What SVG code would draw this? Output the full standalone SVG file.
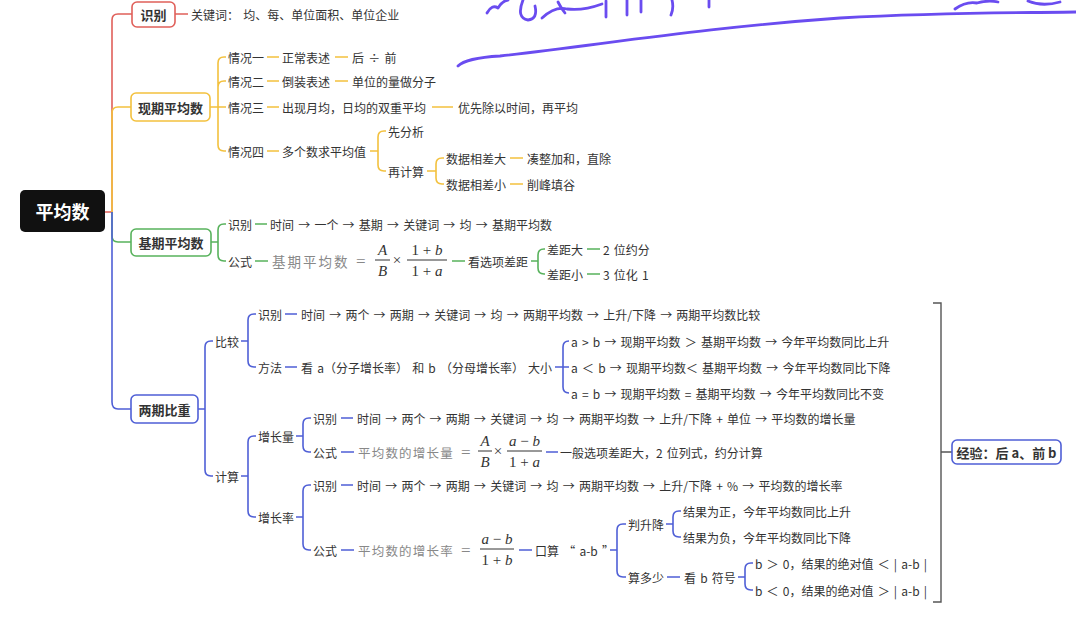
<svg xmlns="http://www.w3.org/2000/svg" width="1076" height="620" viewBox="0 0 1076 620">
<style>
.t{font-family:"Noto Sans CJK SC","Noto Sans",sans-serif;font-size:12px;fill:#333;dominant-baseline:central;word-spacing:1.5px}
.b{font-family:"Noto Sans CJK SC","Noto Sans",sans-serif;font-size:13px;font-weight:bold;fill:#333;text-anchor:middle;dominant-baseline:central}
.f{font-family:"Noto Sans CJK SC","Noto Sans",sans-serif;font-size:13.5px;fill:#888;dominant-baseline:central;letter-spacing:2px}
.f2{font-family:"Noto Sans CJK SC","Noto Sans",sans-serif;font-size:12.5px;fill:#888;dominant-baseline:central;letter-spacing:1.2px}
.m{font-family:"Liberation Serif","DejaVu Serif",serif;font-size:15px;fill:#333;text-anchor:middle}
.eq{font-family:"Liberation Serif","DejaVu Serif",serif;font-size:17px;fill:#888;dominant-baseline:central}
.i{font-style:italic}
.r{stroke:#e0605a;fill:none;stroke-width:1.6}
.y{stroke:#f3c13e;fill:none;stroke-width:1.6}
.g{stroke:#58b25c;fill:none;stroke-width:1.6}
.u{stroke:#4f5fd6;fill:none;stroke-width:1.6}
.k{stroke:#555;fill:none;stroke-width:1.4}
.bar{stroke:#333;stroke-width:1}
.hw{stroke:#6a4cf0;fill:none;stroke-width:2.8;stroke-linecap:round;stroke-linejoin:round}
</style>

<g id="handwriting">
<path class="hw" d="M458,66 Q466,58 500,56 C600,45 700,28 840,18 C950,12 1020,13 1076,12"/>
<path class="hw" d="M487,13 Q492,4 498,8 Q502,1 508,0"/>
<path class="hw" d="M523,0 Q516,18 528,20 Q538,19 535,6"/>
<path class="hw" d="M542,18 Q555,6 567,9 Q583,11 602,4"/>
<path class="hw" d="M558,2 Q561,8 565,13"/>
<path class="hw" d="M606,1 V17"/>
<path class="hw" d="M627,0 V15"/>
<path class="hw" d="M641,0 V12"/>
<path class="hw" d="M672,0 Q674,8 671,15"/>
<path class="hw" d="M709,0 V7"/>
<path class="hw" d="M955,9 Q966,1 977,3 Q988,0 998,2"/>
<path class="hw" d="M1028,1 Q1042,7 1060,2"/>
</g>

<g id="connectors">
<path class="r" d="M105,212 H112 V20 Q112,14 118,14 H132 M175,14 H188"/>
<path class="y" d="M112,212 V113 Q112,107 118,107 H131"/>
<path class="y" d="M210,107 H226 M218,107 V63 Q218,57 224,57 H226 M218,107 V87 Q218,81 224,81 H226 M218,107 V145 Q218,151 224,151 H226"/>
<path class="y" d="M267,57 H279 M335,57 H348 M267,81 H279 M335,81 H348 M267,107 H279 M432,107 H453 M267,151 H279 M370,151 H378"/>
<path class="y" d="M378,151 V137 Q378,131 384,131 H386 M378,151 V165 Q378,171 384,171 H386 M427,171 H436 M436,171 V164 Q436,158 442,158 H444 M436,171 V178 Q436,184 442,184 H444 M510,158 H523 M510,184 H523"/>
<path class="g" d="M112,212 V236 Q112,242 118,242 H131"/>
<path class="g" d="M211,242 H218 M218,242 V230 Q218,224 224,224 H226 M218,242 V255 Q218,261 224,261 H226 M255,224 H267 M255,261 H268 M452,261 H465 M531,261 H538 M538,261 V255 Q538,249 544,249 H545 M538,261 V268 Q538,274 544,274 H545 M587,249 H600 M587,274 H600"/>
<path class="u" d="M112,212 V402 Q112,409 118,409 H131"/>
<path class="u" d="M198,409 H205 M205,409 V347 Q205,341 211,341 H213 M205,409 V470 Q205,476 211,476 H213"/>
<path class="u" d="M241,341 H248 M248,341 V320 Q248,314 254,314 H256 M248,341 V361 Q248,367 254,367 H256 M285,314 H297 M285,367 H297"/>
<path class="u" d="M555,367 H569 M563,367 V347 Q563,341 569,341 M563,367 V387 Q563,393 569,393"/>
<path class="u" d="M241,476 H248 M248,476 V442 Q248,436 254,436 H256 M248,476 V511 Q248,517 254,517 H256"/>
<path class="u" d="M296,436 H303 M303,436 V424 Q303,418 309,418 H311 M303,436 V446 Q303,452 309,452 H311 M341,418 H353 M341,452 H354 M546,452 H558"/>
<path class="u" d="M296,517 H303 M303,517 V491 Q303,485 309,485 H311 M303,517 V544 Q303,550 309,550 H311 M341,485 H353 M341,550 H354 M519,550 H532 M610,550 H617"/>
<path class="u" d="M617,550 V530 Q617,524 623,524 H626 M617,550 V571 Q617,577 623,577 H626 M666,524 H673 M673,524 V517 Q673,511 679,511 H681 M673,524 V531 Q673,537 679,537 H681"/>
<path class="u" d="M667,577 H680 M738,577 H745 M745,577 V569 Q745,563 751,563 H753 M745,577 V584 Q745,590 751,590 H753"/>
<path class="k" d="M933,303 H941 V602 H933 M941,452 H952"/>
</g>

<g id="root">
<rect x="20" y="190" width="85" height="42" rx="5" fill="#111"/>
<text x="62.5" y="211" font-family="Noto Sans CJK SC, sans-serif" font-size="18" font-weight="bold" fill="#fff" text-anchor="middle" dominant-baseline="central">平均数</text>
</g>

<g id="n-shibie">
<rect x="132" y="2" width="43" height="25" rx="5" fill="#fff" stroke="#e0605a" stroke-width="1.6"/>
<text class="b" x="153.5" y="14.5">识别</text>
<text class="t" x="191" y="14">关键词： 均、每、单位面积、单位企业</text>
</g>

<g id="n-xianqi">
<rect x="131" y="93" width="79" height="28" rx="5" fill="#fff" stroke="#f3c13e" stroke-width="1.6"/>
<text class="b" x="170.5" y="107">现期平均数</text>
<text class="t" x="228" y="57">情况一</text>
<text class="t" x="282" y="57">正常表述</text>
<text class="t" x="352" y="57">后 ÷ 前</text>
<text class="t" x="228" y="81">情况二</text>
<text class="t" x="282" y="81">倒装表述</text>
<text class="t" x="352" y="81">单位的量做分子</text>
<text class="t" x="228" y="107">情况三</text>
<text class="t" x="282" y="107">出现月均，日均的双重平均</text>
<text class="t" x="458" y="107">优先除以时间，再平均</text>
<text class="t" x="228" y="151">情况四</text>
<text class="t" x="282" y="151">多个数求平均值</text>
<text class="t" x="388" y="131">先分析</text>
<text class="t" x="388" y="171">再计算</text>
<text class="t" x="446" y="158">数据相差大</text>
<text class="t" x="527" y="158">凑整加和，直除</text>
<text class="t" x="446" y="184">数据相差小</text>
<text class="t" x="527" y="184">削峰填谷</text>
</g>

<g id="n-jiqi">
<rect x="131" y="229" width="80" height="27" rx="5" fill="#fff" stroke="#58b25c" stroke-width="1.6"/>
<text class="b" x="171" y="242.5">基期平均数</text>
<text class="t" x="228" y="224">识别</text>
<text class="t" x="270" y="224">时间 → 一个 → 基期 → 关键词 → 均 → 基期平均数</text>
<text class="t" x="228" y="261">公式</text>
<text class="f" x="272" y="261">基期平均数</text>
<text class="eq" x="356" y="261">=</text>
<text class="m i" x="382.5" y="255">A</text>
<line class="bar" x1="375" y1="260" x2="390" y2="260"/>
<text class="m i" x="382.5" y="276">B</text>
<text class="m" x="397" y="265">×</text>
<text class="m" x="427" y="255">1 + <tspan class="i">b</tspan></text>
<line class="bar" x1="407" y1="260" x2="447" y2="260"/>
<text class="m" x="427" y="276">1 + <tspan class="i">a</tspan></text>
<text class="t" x="468" y="261">看选项差距</text>
<text class="t" x="547" y="249">差距大</text>
<text class="t" x="603" y="249">2 位约分</text>
<text class="t" x="547" y="274">差距小</text>
<text class="t" x="603" y="274">3 位化 1</text>
</g>

<g id="n-liangqi">
<rect x="131" y="395" width="67" height="28" rx="5" fill="#fff" stroke="#4f5fd6" stroke-width="1.6"/>
<text class="b" x="164.5" y="409">两期比重</text>
<text class="t" x="215" y="341">比较</text>
<text class="t" x="258" y="314">识别</text>
<text class="t" x="301" y="314">时间 → 两个 → 两期 → 关键词 → 均 → 两期平均数 → 上升/下降 → 两期平均数比较</text>
<text class="t" x="258" y="367">方法</text>
<text class="t" x="301" y="367">看 a（分子增长率） 和 b （分母增长率） 大小</text>
<text class="t" x="571" y="341">a &gt; b → 现期平均数 ＞ 基期平均数 → 今年平均数同比上升</text>
<text class="t" x="571" y="367">a ＜ b → 现期平均数＜ 基期平均数 → 今年平均数同比下降</text>
<text class="t" x="571" y="393">a = b → 现期平均数 = 基期平均数 → 今年平均数同比不变</text>
<text class="t" x="215" y="476">计算</text>
<text class="t" x="258" y="436">增长量</text>
<text class="t" x="313" y="418">识别</text>
<text class="t" x="357" y="418">时间 → 两个 → 两期 → 关键词 → 均 → 两期平均数 → 上升/下降 + 单位 → 平均数的增长量</text>
<text class="t" x="313" y="452">公式</text>
<text class="f2" x="358" y="452">平均数的增长量</text>
<text class="eq" x="461" y="452">=</text>
<text class="m i" x="485" y="446">A</text>
<line class="bar" x1="478" y1="451" x2="492" y2="451"/>
<text class="m i" x="485" y="467">B</text>
<text class="m" x="498" y="456">×</text>
<text class="m" x="524.5" y="446"><tspan class="i">a</tspan> − <tspan class="i">b</tspan></text>
<line class="bar" x1="507" y1="451" x2="542" y2="451"/>
<text class="m" x="524.5" y="467">1 + <tspan class="i">a</tspan></text>
<text class="t" x="560" y="452">一般选项差距大，2 位列式，约分计算</text>
<text class="t" x="258" y="517">增长率</text>
<text class="t" x="313" y="485">识别</text>
<text class="t" x="357" y="485">时间 → 两个 → 两期 → 关键词 → 均 → 两期平均数 → 上升/下降 + % → 平均数的增长率</text>
<text class="t" x="313" y="550">公式</text>
<text class="f2" x="358" y="550">平均数的增长率</text>
<text class="eq" x="461" y="550">=</text>
<text class="m" x="497" y="544"><tspan class="i">a</tspan> − <tspan class="i">b</tspan></text>
<line class="bar" x1="480" y1="549" x2="514" y2="549"/>
<text class="m" x="497" y="565">1 + <tspan class="i">b</tspan></text>
<text class="t" x="535" y="550">口算 “ a-b ”</text>
<text class="t" x="628" y="524">判升降</text>
<text class="t" x="683" y="511">结果为正，今年平均数同比上升</text>
<text class="t" x="683" y="537">结果为负，今年平均数同比下降</text>
<text class="t" x="628" y="577">算多少</text>
<text class="t" x="684" y="577">看 b 符号</text>
<text class="t" x="755" y="563">b ＞ 0，结果的绝对值 ＜ | a-b |</text>
<text class="t" x="755" y="590">b ＜ 0，结果的绝对值 ＞ | a-b |</text>
</g>

<g id="n-jingyan">
<rect x="952" y="440" width="109" height="24" rx="5" fill="#fff" stroke="#4f5fd6" stroke-width="1.6"/>
<text class="b" x="1006.5" y="452">经验：后 a、前 b</text>
</g>
</svg>
